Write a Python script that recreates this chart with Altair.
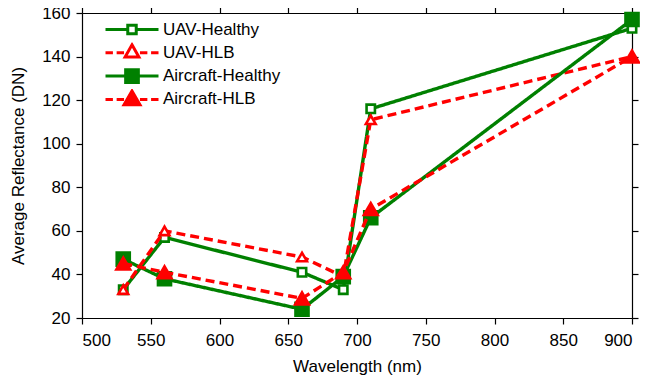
import altair as alt
import pandas as pd

wavelength = [530, 560, 660, 690, 710, 900]
series_names = ["UAV-Healthy", "UAV-HLB", "Aircraft-Healthy", "Aircraft-HLB"]
uav_healthy = [33, 57, 41, 33, 116, 153]
uav_hlb = [33, 60, 48, 39, 111, 140]
air_healthy = [47, 38, 24, 39, 66, 157]
air_hlb = [45, 41, 29, 41, 70, 140]
series_values = [uav_healthy, uav_hlb, air_healthy, air_hlb]

x_ticks = [500, 550, 600, 650, 700, 750, 800, 850, 900]
y_ticks = [20, 40, 60, 80, 100, 120, 140, 160]

GREEN = "#008000"
RED = "#ff0000"
FONT = "Liberation Sans"

styles = {
    "UAV-Healthy": dict(color=GREEN, dash=[1, 0], shape="square", fill="white", size=70),
    "UAV-HLB": dict(color=RED, dash=[9, 5], shape="triangle-up", fill="white", size=95),
    "Aircraft-Healthy": dict(color=GREEN, dash=[1, 0], shape="square", fill=GREEN, size=170),
    "Aircraft-HLB": dict(color=RED, dash=[9, 5], shape="triangle-up", fill=RED, size=190),
}

# legend symbols: line segment(s) + marker, in unit box
legend_paths = [
    "M-1,0H-0.16M0.16,0H1M-0.16,-0.16H0.16V0.16H-0.16Z",
    "M-1,0H-0.72M-0.58,0H-0.3M0.3,0H0.58M0.72,0H1M0,-0.3L0.26,0.16L-0.26,0.16Z",
    "M-1,0H-0.24M0.24,0H1M-0.24,-0.24H0.24V0.24H-0.24Z",
    "M-1,0H-0.72M-0.58,0H-0.3M0.3,0H0.58M0.72,0H1M0,-0.32L0.3,0.2L-0.3,0.2Z",
]
legend_fills = ["white", "white", GREEN, RED]
legend_strokes = [GREEN, RED, GREEN, RED]

rows = []
for name, vals in zip(series_names, series_values):
    for w, v in zip(wavelength, vals):
        rows.append({"wavelength": w, "value": v, "series": name})
df = pd.DataFrame(rows)

xscale = alt.Scale(domain=[500, 900], nice=False)
yscale = alt.Scale(domain=[20, 160], nice=False)

axis_common = dict(
    domainColor="black", domainWidth=1.2, tickColor="black", tickWidth=1.2, tickSize=6,
    labelFont=FONT, labelFontSize=17, labelColor="black", titleFont=FONT,
    titleFontSize=17, titleFontWeight="normal", titleColor="black", grid=False,
)

x_bottom = alt.Axis(orient="bottom", values=x_ticks, title="Wavelength (nm)", labelPadding=8,
                    titlePadding=10, **axis_common)
y_left = alt.Axis(orient="left", values=y_ticks, title="Average Reflectance (DN)", labelPadding=6,
                  titlePadding=14, **axis_common)
x_top = alt.Axis(orient="top", values=x_ticks, labels=False, title=None, **axis_common)
y_right = alt.Axis(orient="right", values=y_ticks, labels=False, title=None, **axis_common)

layers = []
for i, name in enumerate(series_names):
    st = styles[name]
    sub = df[df["series"] == name]
    xa = x_bottom if i == 0 else None
    ya = y_left if i == 0 else None
    line = alt.Chart(sub).mark_line(
        color=st["color"], strokeWidth=3.4, strokeDash=st["dash"]
    ).encode(
        x=alt.X("wavelength:Q", scale=xscale, axis=xa),
        y=alt.Y("value:Q", scale=yscale, axis=ya),
    )
    xb = x_top if i == 0 else None
    yb = y_right if i == 0 else None
    pts = alt.Chart(sub).mark_point(
        shape=st["shape"], size=st["size"], fill=st["fill"], stroke=st["color"],
        strokeWidth=2.6, opacity=1, filled=False,
    ).encode(
        x=alt.X("wavelength:Q", scale=xscale, axis=xb),
        y=alt.Y("value:Q", scale=yscale, axis=yb),
    )
    layers += [line, pts]

leg = alt.Legend(
    title=None, orient="none", legendX=22, legendY=6, symbolSize=2809,
    symbolStrokeWidth=3, labelFont=FONT, labelFontSize=17, labelColor="black",
    labelOffset=3, rowPadding=2.3, clipHeight=21, symbolOpacity=1,
)
legend_df = pd.DataFrame({"series": series_names})
legend_layer = alt.Chart(legend_df).mark_point(opacity=1, strokeWidth=3).encode(
    shape=alt.Shape("series:N", scale=alt.Scale(domain=series_names, range=legend_paths), legend=leg),
    fill=alt.Fill("series:N", scale=alt.Scale(domain=series_names, range=legend_fills), legend=leg),
    stroke=alt.Stroke("series:N", scale=alt.Scale(domain=series_names, range=legend_strokes), legend=leg),
).transform_filter("false")

chart = alt.layer(*layers, legend_layer).resolve_axis(
    x="independent", y="independent"
).properties(
    width=550, height=305,
    autosize=alt.AutoSizeParams(type="none"),
    padding={"left": 74, "top": 5, "right": 8, "bottom": 62},
).configure_view(stroke=None)

chart.save("out.html", embed_options={"renderer": "svg", "actions": False})
